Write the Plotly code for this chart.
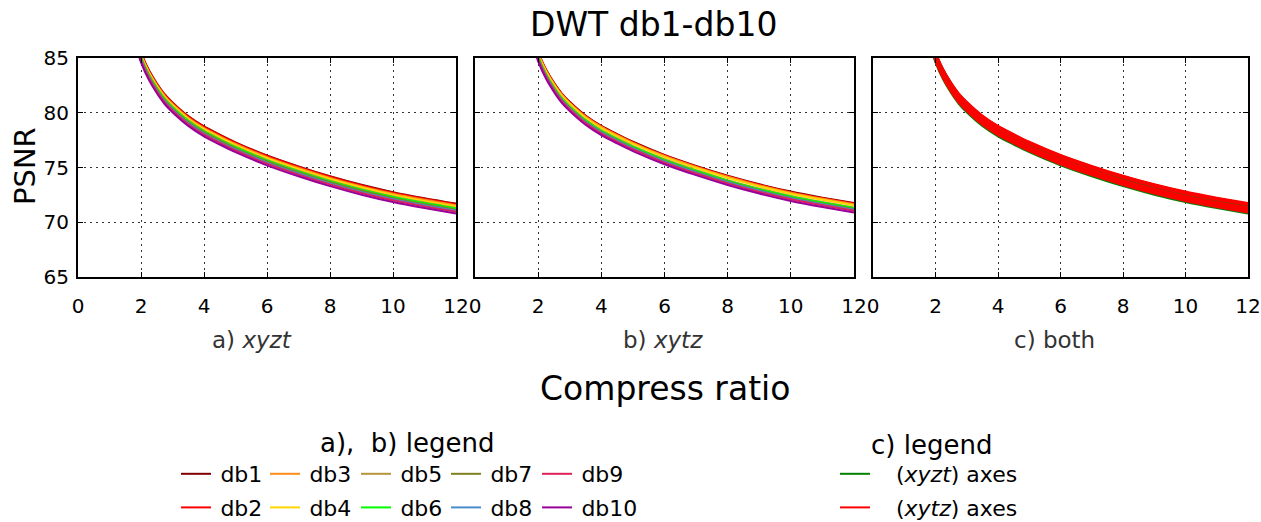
import plotly.graph_objects as go

# ---------------- data ----------------
ratio = [1.9, 2, 2.25, 2.5, 2.75, 3, 3.5, 4, 4.5, 5, 6, 7, 8, 9, 10, 11, 12]
names = ["db1", "db2", "db3", "db4", "db5", "db6", "db7", "db8", "db9", "db10"]
colors = ["#800000", "#ff0000", "#ff8c1a", "#ffd700", "#b8943c",
          "#00ff00", "#808020", "#4a8cc8", "#e0205a", "#990099"]

# a) xyzt
xyzt_db1 = [86.4, 85.5, 83.9, 82.7, 81.7, 80.95, 79.7, 78.75, 78.0, 77.3, 76.1, 75.1, 74.2, 73.42, 72.75, 72.2, 71.7]
xyzt_db2 = [86.35, 85.45, 83.85, 82.65, 81.65, 80.9, 79.65, 78.7, 77.95, 77.25, 76.05, 75.05, 74.15, 73.37, 72.7, 72.15, 71.65]
xyzt_db3 = [86.25, 85.35, 83.75, 82.55, 81.55, 80.8, 79.55, 78.6, 77.85, 77.15, 75.95, 74.95, 74.05, 73.27, 72.6, 72.05, 71.55]
xyzt_db4 = [86.15, 85.25, 83.65, 82.45, 81.45, 80.7, 79.45, 78.5, 77.75, 77.05, 75.85, 74.85, 73.95, 73.17, 72.5, 71.95, 71.45]
xyzt_db5 = [86.0, 85.1, 83.5, 82.3, 81.3, 80.55, 79.3, 78.35, 77.6, 76.9, 75.7, 74.7, 73.8, 73.02, 72.35, 71.8, 71.3]
xyzt_db6 = [85.95, 85.05, 83.45, 82.25, 81.25, 80.5, 79.25, 78.3, 77.55, 76.85, 75.65, 74.65, 73.75, 72.97, 72.3, 71.75, 71.25]
xyzt_db7 = [85.85, 84.95, 83.35, 82.15, 81.15, 80.4, 79.15, 78.2, 77.45, 76.75, 75.55, 74.55, 73.65, 72.87, 72.2, 71.65, 71.15]
xyzt_db8 = [85.75, 84.85, 83.25, 82.05, 81.05, 80.3, 79.05, 78.1, 77.35, 76.65, 75.45, 74.45, 73.55, 72.77, 72.1, 71.55, 71.05]
xyzt_db9 = [85.65, 84.75, 83.15, 81.95, 80.95, 80.2, 78.95, 78.0, 77.25, 76.55, 75.35, 74.35, 73.45, 72.67, 72.0, 71.45, 70.95]
xyzt_db10 = [85.5, 84.6, 83.0, 81.8, 80.8, 80.05, 78.8, 77.85, 77.1, 76.4, 75.2, 74.2, 73.3, 72.52, 71.85, 71.3, 70.8]

# b) xytz
xytz_db1 = [86.45, 85.55, 83.95, 82.75, 81.75, 81.0, 79.75, 78.8, 78.05, 77.35, 76.15, 75.15, 74.25, 73.47, 72.8, 72.25, 71.75]
xytz_db2 = [86.4, 85.5, 83.9, 82.7, 81.7, 80.95, 79.7, 78.75, 78.0, 77.3, 76.1, 75.1, 74.2, 73.42, 72.75, 72.2, 71.7]
xytz_db3 = [86.35, 85.45, 83.85, 82.65, 81.65, 80.9, 79.65, 78.7, 77.95, 77.25, 76.05, 75.05, 74.15, 73.37, 72.7, 72.15, 71.65]
xytz_db4 = [86.25, 85.35, 83.75, 82.55, 81.55, 80.8, 79.55, 78.6, 77.85, 77.15, 75.95, 74.95, 74.05, 73.27, 72.6, 72.05, 71.55]
xytz_db5 = [86.05, 85.15, 83.55, 82.35, 81.35, 80.6, 79.35, 78.4, 77.65, 76.95, 75.75, 74.75, 73.85, 73.07, 72.4, 71.85, 71.35]
xytz_db6 = [86.0, 85.1, 83.5, 82.3, 81.3, 80.55, 79.3, 78.35, 77.6, 76.9, 75.7, 74.7, 73.8, 73.02, 72.35, 71.8, 71.3]
xytz_db7 = [85.9, 85.0, 83.4, 82.2, 81.2, 80.45, 79.2, 78.25, 77.5, 76.8, 75.6, 74.6, 73.7, 72.92, 72.25, 71.7, 71.2]
xytz_db8 = [85.85, 84.95, 83.35, 82.15, 81.15, 80.4, 79.15, 78.2, 77.45, 76.75, 75.55, 74.55, 73.65, 72.87, 72.2, 71.65, 71.15]
xytz_db9 = [85.75, 84.85, 83.25, 82.05, 81.05, 80.3, 79.05, 78.1, 77.35, 76.65, 75.45, 74.45, 73.55, 72.77, 72.1, 71.55, 71.05]
xytz_db10 = [85.6, 84.7, 83.1, 81.9, 80.9, 80.15, 78.9, 77.95, 77.2, 76.5, 75.3, 74.3, 73.4, 72.62, 71.95, 71.4, 70.9]

xyzt = [xyzt_db1, xyzt_db2, xyzt_db3, xyzt_db4, xyzt_db5,
        xyzt_db6, xyzt_db7, xyzt_db8, xyzt_db9, xyzt_db10]
xytz = [xytz_db1, xytz_db2, xytz_db3, xytz_db4, xytz_db5,
        xytz_db6, xytz_db7, xytz_db8, xytz_db9, xytz_db10]

x_ticks = [0, 2, 4, 6, 8, 10, 12]
y_ticks = [65, 70, 75, 80, 85]

# ---------------- figure ----------------
W, H = 1261, 522
FONT = "DejaVu Sans"
fig = go.Figure()

legend_ids = ["legend", "legend2", "legend3", "legend4", "legend5"]

for i, n in enumerate(names):
    leg = legend_ids[i // 2]
    fig.add_trace(go.Scatter(x=ratio, y=xyzt[i], mode="lines", name="\u2009" + n,
                             line=dict(color=colors[i], width=2, shape="spline", smoothing=0.8),
                             legendgroup=n, legend=leg, showlegend=True,
                             xaxis="x", yaxis="y"))
    fig.add_trace(go.Scatter(x=ratio, y=xytz[i], mode="lines", name="\u2009" + n,
                             line=dict(color=colors[i], width=2, shape="spline", smoothing=0.8),
                             legendgroup=n, legend=leg, showlegend=False,
                             xaxis="x2", yaxis="y2"))

for i, n in enumerate(names):
    fig.add_trace(go.Scatter(x=ratio, y=xyzt[i], mode="lines",
                             name="\u00a0\u00a0\u00a0(<i>xyzt</i>) axes",
                             line=dict(color="#008000", width=2, shape="spline", smoothing=0.8),
                             legendgroup="c_xyzt", legend="legend6",
                             showlegend=(i == 0), xaxis="x3", yaxis="y3"))
    fig.add_trace(go.Scatter(x=ratio, y=xytz[i], mode="lines",
                             name="\u00a0\u00a0\u00a0(<i>xytz</i>) axes",
                             line=dict(color="#ff0000", width=2, shape="spline", smoothing=0.8),
                             legendgroup="c_xytz", legend="legend6",
                             showlegend=(i == 0), xaxis="x3", yaxis="y3"))

def px_x(p):
    return p / W

def px_y(p):
    return 1 - p / H

y_dom = [px_y(277), px_y(58)]
x_doms = [[px_x(78), px_x(456)], [px_x(475), px_x(854)], [px_x(873), px_x(1248)]]

axis_common = dict(showline=True, linecolor="black", linewidth=2, mirror="ticks",
                   ticks="inside", ticklen=5, tickcolor="black", tickwidth=1,
                   showgrid=True, gridcolor="#333333", gridwidth=1, griddash="1.5px,4.5px",
                   zeroline=False, automargin=False,
                   tickfont=dict(family=FONT, size=20, color="black"))

for k in range(3):
    sx = "" if k == 0 else str(k + 1)
    fig.update_layout(**{
        "xaxis" + sx: dict(domain=x_doms[k], range=[0, 12], tickvals=x_ticks,
                           anchor="y" + sx, ticklabelstandoff=10,
                           ticklabeloverflow="allow", **axis_common),
        "yaxis" + sx: dict(domain=y_dom, range=[65, 85], tickvals=y_ticks,
                           anchor="x" + sx, showticklabels=(k == 0),
                           ticklabelstandoff=3, **axis_common),
    })

leg_font = dict(family=FONT, size=22, color="black")
leg_top = px_y(453)
col_x = [176, 265, 356, 446, 537]
for j, lid in enumerate(legend_ids):
    fig.update_layout(**{lid: dict(x=px_x(col_x[j]), y=leg_top, xanchor="left",
                                   yanchor="top", orientation="v",
                                   bgcolor="rgba(0,0,0,0)", borderwidth=0,
                                   font=leg_font, tracegroupgap=2,
                                   traceorder="grouped")})
fig.update_layout(legend6=dict(x=px_x(835), y=leg_top, xanchor="left", yanchor="top",
                               orientation="v", bgcolor="rgba(0,0,0,0)", borderwidth=0,
                               font=leg_font, tracegroupgap=2, traceorder="grouped"))

def ann(text, x, y, size, color="black", angle=0):
    fig.add_annotation(text=text, x=px_x(x), y=px_y(y), xref="paper", yref="paper",
                       showarrow=False, xanchor="center", yanchor="middle",
                       textangle=angle, font=dict(family=FONT, size=size, color=color))

ann("DWT db1-db10", 653, 25, 33)
ann("PSNR", 25, 166, 29, angle=-90)
ann("a) <i>xyzt</i>", 252, 340, 23, color="#333333")
ann("b) <i>xytz</i>", 663, 340, 23, color="#333333")
ann("c) both", 1054, 340, 23, color="#333333")
ann("Compress ratio", 665, 388, 33)
ann("a),\u00a0\u00a0b) legend", 407, 443, 26)
ann("c) legend", 931, 445, 26)

fig.update_layout(width=W, height=H,
                  margin=dict(l=0, r=0, t=0, b=0, autoexpand=False),
                  plot_bgcolor="white", paper_bgcolor="white",
                  font=dict(family=FONT))

fig.write_html("out.html", config={"displayModeBar": False},
               post_script="document.body.style.margin='0';document.body.style.overflow='hidden';")
